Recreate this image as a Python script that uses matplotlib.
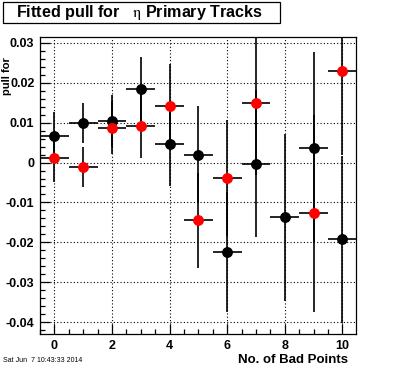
import numpy as np
import matplotlib
matplotlib.use("Agg")
import matplotlib.pyplot as plt
from matplotlib.patches import Rectangle
from matplotlib.ticker import MultipleLocator

plt.rcParams['font.family'] = ['Liberation Sans', 'DejaVu Sans']
plt.rcParams['mathtext.fontset'] = 'stix'

# number of bad points
n_bad = [0, 1, 2, 3, 4, 5, 6, 7, 8, 9, 10]

# black series
black_y = [0.00675, 0.0100, 0.0105, 0.0185, 0.00475, 0.0020, -0.0224, -0.00025, -0.01375, 0.00375, -0.01925]
black_err = [0.006, 0.005, 0.0065, 0.008, 0.0105, 0.0122, 0.015, 0.0183, 0.021, 0.024, 0.021]

# red series (no point at 8)
red_y = [0.0011, -0.0012, 0.00875, 0.00915, 0.01425, -0.0145, -0.0039, 0.0148, np.nan, -0.0127, 0.0230]
red_err = [0.006, 0.005, 0.0067, 0.008, 0.0105, 0.012, 0.0145, 0.018, np.nan, 0.0246, 0.021]

y_ticks = [-0.04, -0.03, -0.02, -0.01, 0, 0.01, 0.02, 0.03]
y_tick_labels = ['-0.04', '-0.03', '-0.02', '-0.01', '0', '0.01', '0.02', '0.03']

fig = plt.figure(figsize=(3.96, 3.72), dpi=100)
ax = fig.add_axes([40/396, 38/372, 316/396, 297/372])

ax.errorbar(n_bad, black_y, xerr=0.5, yerr=black_err, fmt='o', color='black',
            ms=6.8, elinewidth=1.2, capsize=0, zorder=3)
ax.errorbar(n_bad, red_y, xerr=0.5, yerr=red_err, fmt='o', color='red', ecolor='black',
            ms=6.8, elinewidth=1.2, capsize=0, zorder=4)

ax.set_xlim(-0.5, 10.47)
ax.set_ylim(-0.0429, 0.0314)
ax.set_yticks(y_ticks)
ax.set_yticklabels(y_tick_labels)
ax.xaxis.set_major_locator(MultipleLocator(2))
ax.xaxis.set_minor_locator(MultipleLocator(0.5))
ax.yaxis.set_minor_locator(MultipleLocator(0.002))
ax.tick_params(which='both', direction='in', top=False, right=False, width=0.9)
ax.tick_params(which='major', length=7, pad=4, labelsize=9)
ax.tick_params(which='minor', length=3.5)
for lab in ax.get_xticklabels() + ax.get_yticklabels():
    lab.set_fontweight('bold')
ax.grid(True, which='major', linestyle=(0, (1, 2)), color='black', linewidth=0.8)
for sp in ax.spines.values():
    sp.set_linewidth(0.9)

# title box
fig.patches.append(Rectangle((3/396, 1 - 22.5/372), 277/396, 20.5/372, transform=fig.transFigure,
                             fill=False, edgecolor='black', linewidth=0.9))
fig.text(139/396, 1 - 12/372, r'Fitted pull for   $\mathrm{\eta}$ Primary Tracks',
         ha='center', va='center', fontsize=11.6, fontweight='bold')

fig.text(7/396, 1 - 76/372, 'pull for', rotation=90, ha='center', va='center',
         fontsize=8, fontweight='bold')
fig.text(348/396, 1 - 363/372, 'No. of Bad Points', ha='right', va='baseline',
         fontsize=9.5, fontweight='bold')
fig.text(3/396, 1 - 362/372, 'Sat Jun  7 10:43:33 2014', ha='left', va='baseline',
         fontsize=5)

fig.savefig('out.png', dpi=100)
